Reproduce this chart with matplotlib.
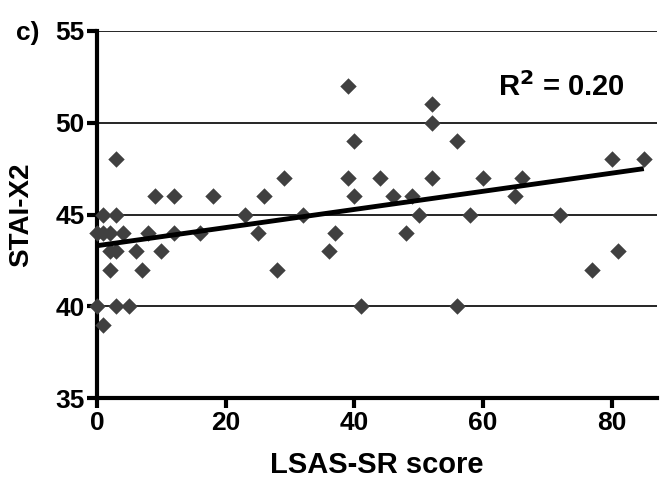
import matplotlib.pyplot as plt
import numpy as np

# LSAS-SR score vs STAI-X2
lsas = [0, 1, 2, 4, 8, 12, 16, 25,
        3, 9, 12, 18, 26, 29,
        1, 3, 23,
        2, 3, 6, 10,
        2, 7, 28,
        0, 3, 5, 1,
        39, 52, 52, 40, 56, 39, 44, 52, 40, 46, 49, 32, 50, 58, 37, 48, 36, 41, 56,
        80, 85, 60, 66, 65, 72, 81, 77]
stai = [44, 44, 44, 44, 44, 44, 44, 44,
        48, 46, 46, 46, 46, 47,
        45, 45, 45,
        43, 43, 43, 43,
        42, 42, 42,
        40, 40, 40, 39,
        52, 51, 50, 49, 49, 47, 47, 47, 46, 46, 46, 45, 45, 45, 44, 44, 43, 40, 40,
        48, 48, 47, 47, 46, 45, 43, 42]

# regression line end points
fit_x = [0, 85]
fit_y = [43.3, 47.5]

x_ticks = [0, 20, 40, 60, 80]
y_ticks = [35, 40, 45, 50, 55]

plt.rcParams['font.family'] = ['Liberation Sans', 'DejaVu Sans']
plt.rcParams['font.weight'] = 'bold'

fig = plt.figure(figsize=(6.6, 4.92), dpi=100)
ax = fig.add_axes([0.147, 0.191, 0.848, 0.746])

for yv in y_ticks[1:]:
    ax.axhline(yv, color='black', linewidth=1.2, zorder=1)

ax.scatter(lsas, stai, marker='D', s=70, color='#404040', linewidths=0, zorder=3, clip_on=False)
ax.plot(fit_x, fit_y, color='black', linewidth=3.5, zorder=4, solid_capstyle='butt')

ax.set_xlim(0, 87)
ax.set_ylim(35, 55)
ax.set_xticks(x_ticks)
ax.set_yticks(y_ticks)

for s in ['top', 'right']:
    ax.spines[s].set_visible(False)
for s in ['left', 'bottom']:
    ax.spines[s].set_linewidth(3)

ax.tick_params(axis='both', which='major', length=7, width=3, labelsize=19, pad=2)
for lab in ax.get_xticklabels() + ax.get_yticklabels():
    lab.set_fontweight('bold')

ax.set_xlabel('LSAS-SR score', fontsize=21, fontweight='bold')
ax.set_ylabel('STAI-X2', fontsize=20, fontweight='bold')
ax.xaxis.set_label_coords(0.5, -0.145)
ax.yaxis.set_label_coords(-0.112, 0.5)

fig.text(0.85, 0.823, r'R$^\mathbf{2}$ = 0.20', ha='center', va='center',
         fontsize=21, fontweight='bold')
fig.text(0.042, 0.933, 'c)', ha='center', va='center', fontsize=19, fontweight='bold')

fig.savefig('out.png', dpi=100)
